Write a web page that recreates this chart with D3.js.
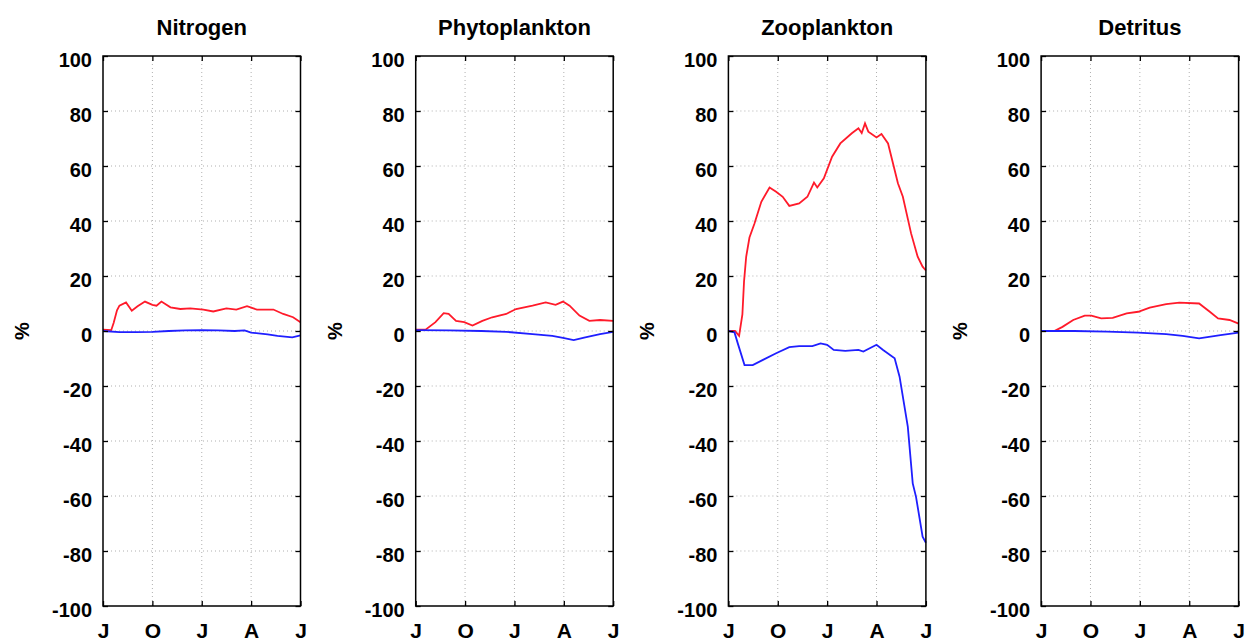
<!doctype html>
<html>
<head>
<meta charset="utf-8">
<title>Percent change</title>
<style>
  body { margin: 0; background: #fff; }
  text { font-family: "Liberation Sans", Arial, sans-serif; font-weight: bold; fill: #000; }
</style>
</head>
<body>
<div id="chart"></div>
<script src="https://cdn.jsdelivr.net/npm/d3@7"></script>
<script>
// panels
var titles = ["Nitrogen", "Phytoplankton", "Zooplankton", "Detritus"];
var monthTicks = [0, 3, 6, 9, 12];
var monthLabels = ["J", "O", "J", "A", "J"];
var yTicks = [-100, -80, -60, -40, -20, 0, 20, 40, 60, 80, 100];

// [month since July, percent]
var nitrogenRed = [[0,0.5],[0.5,0.3],[0.65,3],[0.85,7.5],[1.0,9.2],[1.4,10.4],[1.75,7.4],[2.1,9],[2.55,10.7],[3.0,9.5],[3.25,9.2],[3.55,10.7],[4.1,8.6],[4.7,8],[5.3,8.2],[6.1,7.8],[6.7,7.1],[7.5,8.2],[8.1,7.8],[8.75,9.0],[9.35,7.8],[10.35,7.8],[10.95,6.2],[11.55,5.0],[12,3.2]];
var nitrogenBlue = [[0,0],[1,-0.4],[2,-0.4],[3,-0.3],[4,0],[5,0.2],[6,0.3],[7,0.2],[8,0],[8.6,0.2],[9.0,-0.6],[10,-1.2],[10.6,-1.8],[11.5,-2.3],[12,-1.6]];
var phytoRed = [[0,0.5],[0.6,0.5],[1.2,3.2],[1.7,6.5],[2.0,6.2],[2.45,3.7],[2.95,3.2],[3.45,2],[4.05,3.7],[4.65,5],[5.5,6.2],[6.1,8],[7.1,9.2],[7.9,10.4],[8.5,9.5],[8.95,10.7],[9.35,9.2],[9.95,5.6],[10.55,3.7],[11.2,4],[12,3.7]];
var phytoBlue = [[0,0.3],[2,0.2],[4,0],[5.5,-0.3],[7.1,-1.1],[8.3,-1.8],[8.95,-2.5],[9.6,-3.3],[10.3,-2.3],[11.2,-1.1],[12,-0.3]];
var zooRed = [[0,0],[0.4,0],[0.65,-1.8],[0.85,6],[0.95,18],[1.08,27],[1.28,34],[1.58,39],[2.0,47],[2.5,52.2],[2.9,50.6],[3.3,48.8],[3.7,45.5],[4.3,46.4],[4.8,48.8],[5.2,54],[5.4,52.2],[5.8,55.5],[6.3,63.4],[6.8,68.2],[7.5,71.9],[7.9,73.7],[8.1,72],[8.3,75.5],[8.5,72.5],[9.0,70.4],[9.3,71.6],[9.7,68.2],[10.3,53.7],[10.6,48.8],[11.1,35.5],[11.5,27],[11.8,23.4],[12,22]];
var zooBlue = [[0,0],[0.37,-0.5],[0.57,-4.5],[0.98,-12.4],[1.48,-12.4],[2.1,-10.5],[2.9,-8.1],[3.7,-5.9],[4.3,-5.5],[5.1,-5.5],[5.6,-4.5],[6.0,-5],[6.4,-6.9],[7.1,-7.2],[7.9,-6.9],[8.2,-7.5],[9.0,-5],[9.4,-6.9],[10.1,-9.9],[10.4,-16.6],[10.9,-34.8],[11.2,-55.4],[11.4,-60.3],[11.8,-74.8],[12,-77]];
var detRed = [[0,0],[0.8,0],[1.3,1.5],[1.95,4],[2.65,5.6],[3.05,5.6],[3.65,4.6],[4.35,4.8],[5.2,6.4],[5.9,7],[6.6,8.5],[7.6,9.8],[8.4,10.3],[9.6,10],[10.25,7],[10.75,4.6],[11.45,4],[12,2.7]];
var detBlue = [[0,0],[2,0],[4,-0.2],[5.9,-0.6],[7.6,-1.1],[8.6,-1.8],[9.6,-2.7],[10.9,-1.5],[12,-0.6]];

var redSeries = [nitrogenRed, phytoRed, zooRed, detRed];
var blueSeries = [nitrogenBlue, phytoBlue, zooBlue, detBlue];

var W = 1247, H = 644;
var plotTop = 56, plotBottom = 606;
var panelW = 197.5, firstLeft = 103, step = 312.7;

var svg = d3.select("#chart").append("svg").attr("width", W).attr("height", H);

var y = d3.scaleLinear().domain([-100, 100]).range([plotBottom, plotTop]);

titles.forEach(function(title, i) {
  var left = firstLeft + i * step;
  var x = d3.scaleLinear().domain([0, 12]).range([left, left + panelW]);
  var g = svg.append("g");

  // grid (dotted)
  g.selectAll(".gx").data(monthTicks.slice(1, -1)).enter().append("line")
    .attr("x1", function(d) { return x(d); }).attr("x2", function(d) { return x(d); })
    .attr("y1", plotTop).attr("y2", plotBottom)
    .attr("stroke", "#b0b0b0").attr("stroke-width", 1).attr("stroke-dasharray", "1,3");
  g.selectAll(".gy").data(yTicks.slice(1, -1)).enter().append("line")
    .attr("x1", left).attr("x2", left + panelW)
    .attr("y1", function(d) { return y(d); }).attr("y2", function(d) { return y(d); })
    .attr("stroke", "#b0b0b0").attr("stroke-width", 1).attr("stroke-dasharray", "1,3");

  // lines
  var line = d3.line().x(function(d) { return x(d[0]); }).y(function(d) { return y(d[1]); });
  g.append("path").attr("d", line(redSeries[i]))
    .attr("fill", "none").attr("stroke", "#ff1a2a").attr("stroke-width", 1.8);
  g.append("path").attr("d", line(blueSeries[i]))
    .attr("fill", "none").attr("stroke", "#1f1fff").attr("stroke-width", 1.8);

  // axes with inward ticks
  g.append("g").attr("transform", "translate(0," + plotBottom + ")")
    .call(d3.axisBottom(x).tickValues(monthTicks).tickSizeInner(-5).tickSizeOuter(0).tickPadding(17)
      .tickFormat(function(d, k) { return monthLabels[k]; }))
    .call(function(a) { a.select(".domain").remove(); a.selectAll("text").attr("font-size", 21); });
  g.append("g").attr("transform", "translate(0," + plotTop + ")")
    .call(d3.axisTop(x).tickValues(monthTicks).tickSizeInner(-5).tickSizeOuter(0).tickFormat(""))
    .call(function(a) { a.select(".domain").remove(); });
  g.append("g").attr("transform", "translate(" + left + ",0)")
    .call(d3.axisLeft(y).tickValues(yTicks).tickSizeInner(-5).tickSizeOuter(0).tickPadding(11)
      .tickFormat(function(d) { return String(d); }))
    .call(function(a) { a.select(".domain").remove(); a.selectAll("text").attr("font-size", 20).attr("dy", "0.5em"); });
  g.append("g").attr("transform", "translate(" + (left + panelW) + ",0)")
    .call(d3.axisRight(y).tickValues(yTicks).tickSizeInner(-5).tickSizeOuter(0).tickFormat(""))
    .call(function(a) { a.select(".domain").remove(); });
  g.selectAll(".tick line").attr("stroke", "#000").attr("stroke-width", 1.3);
  g.selectAll(".tick text").attr("fill", "#000").attr("font-family", "Liberation Sans, Arial, sans-serif").attr("font-weight", "bold");

  // frame
  g.append("rect").attr("x", left).attr("y", plotTop).attr("width", panelW).attr("height", plotBottom - plotTop)
    .attr("fill", "none").attr("stroke", "#000").attr("stroke-width", 1.5);

  // title and y label
  g.append("text").attr("x", left + panelW / 2).attr("y", 35).attr("text-anchor", "middle")
    .attr("font-size", 22).text(title);
  g.append("text").attr("transform", "translate(" + (left - 74) + "," + y(0) + ") rotate(-90)")
    .attr("text-anchor", "middle").attr("font-size", 20).text("%");
});
</script>
</body>
</html>
